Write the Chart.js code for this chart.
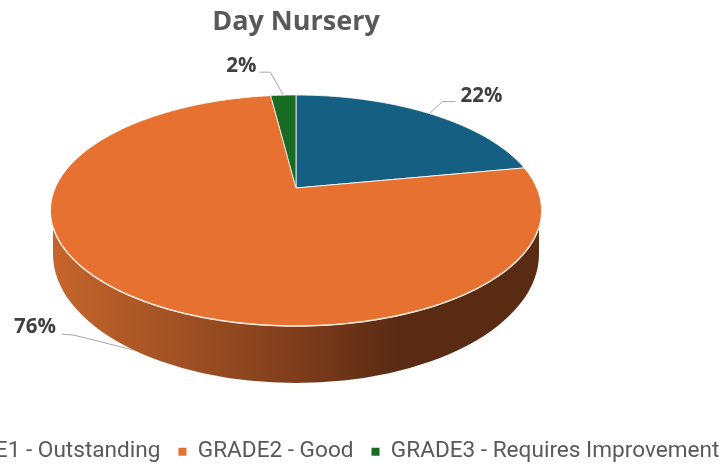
<!DOCTYPE html>
<html><head><meta charset="utf-8">
<style>html,body{margin:0;padding:0;background:#fff;overflow:hidden;width:722px;height:468px}
#wrap{position:absolute;left:-154px;top:0;width:900px;height:468px}</style>
<script src="https://cdn.jsdelivr.net/npm/chart.js@4"></script>
</head><body><div id="wrap"><canvas id="c" width="900" height="468"></canvas></div>
<script>
const categories = ["GRADE1 - Outstanding","GRADE2 - Good","GRADE3 - Requires Improvement"];
const values = [22,76,2];
const colors = ["#156082","#E67130","#196B24"];
const titleText = "Day Nursery";

// perspective look of the pie: tilt, squash, apex height, wall
const K = 0.195, SQUASH = 0.4614, APEX_Y = 188;
const WALL = {rx:243/240.8, yc:254, ry:129};

function project(el, a){
  const r = el.outerRadius, X = Math.cos(a), Y = Math.sin(a), w = 1 - K*Y;
  return {x: el.x + r*X/w, y: APEX_Y + r*SQUASH*Y/w};
}
const labelLayout = [
  {leader:[[13,-12],[26,-12]], tx:31, ty:-20, align:'left', wall:false},
  {leader:[[-60,-15],[-72,-16]], tx:-78, ty:-23, align:'right', wall:true},
  {leader:[[-13,-23],[-24,-23]], tx:-27, ty:-30, align:'right', wall:false}
];
const labelDy = [3,0,1];
const pie3d = {
  id:'pie3d',
  afterLayout(chart){
    const l = chart.legend;
    l.left += 22; l.right += 22; l.top += 9; l.bottom += 9;
  },
  beforeDatasetsDraw(chart){
    const ctx = chart.ctx, els = chart.getDatasetMeta(0).data, e0 = els[0];
    const wrx = e0.outerRadius*WALL.rx, wry = WALL.ry;
    // side wall
    const g = ctx.createLinearGradient(e0.x-240,0,e0.x+100,0);
    g.addColorStop(0,'#C4652C'); g.addColorStop(0.42,'#9B4E22'); g.addColorStop(0.72,'#7D3C1C'); g.addColorStop(1,'#5A2B13');
    ctx.save();
    ctx.fillStyle = g;
    ctx.beginPath();
    ctx.moveTo(e0.x-wrx, 228);
    ctx.lineTo(e0.x-wrx, WALL.yc);
    ctx.ellipse(e0.x, WALL.yc, wrx, wry, 0, Math.PI, 0, true);
    ctx.lineTo(e0.x+wrx, 228);
    ctx.closePath();
    ctx.fill();
    // top surface, one path per arc element
    els.forEach((el,i)=>{
      const n = 160;
      ctx.beginPath();
      ctx.moveTo(el.x, APEX_Y);
      for(let s=0;s<=n;s++){
        const p = project(el, el.startAngle + (el.endAngle-el.startAngle)*s/n);
        ctx.lineTo(p.x,p.y);
      }
      ctx.closePath();
      ctx.fillStyle = colors[i];
      ctx.fill();
      ctx.strokeStyle = 'rgba(255,255,255,0.8)';
      ctx.lineWidth = 1;
      ctx.stroke();
    });
    // bright rim where the top surface meets the wall
    const el = els[1];
    ctx.beginPath();
    let started = false;
    for(let s=0;s<=240;s++){
      const p = project(el, el.startAngle + (el.endAngle-el.startAngle)*s/240);
      if(p.y < 228) { if(started) break; continue; }
      if(!started){ ctx.moveTo(p.x,p.y); started = true; } else ctx.lineTo(p.x,p.y);
    }
    ctx.strokeStyle = 'rgba(255,240,230,0.9)';
    ctx.lineWidth = 1.5;
    ctx.stroke();
    // data labels with leader lines
    const total = values.reduce((a,b)=>a+b,0);
    ctx.font = 'bold 20.5px "Open Sans"';
    ctx.textBaseline = 'middle';
    els.forEach((el,i)=>{
      const L = labelLayout[i], mid = (el.startAngle+el.endAngle)/2;
      let a = project(el, mid);
      if(L.wall){
        a = {x:a.x+6, y:WALL.yc + wry*Math.sqrt(Math.max(0,1-Math.pow((a.x+6-el.x)/wrx,2)))};
      }
      ctx.strokeStyle = '#A6A6A6'; ctx.lineWidth = 1;
      ctx.beginPath(); ctx.moveTo(a.x,a.y);
      L.leader.forEach(o=>ctx.lineTo(a.x+o[0],a.y+o[1]));
      ctx.stroke();
      ctx.fillStyle = '#404040';
      ctx.textAlign = L.align;
      ctx.fillText(Math.round(values[i]/total*100)+'%', a.x+L.tx, a.y+L.ty+labelDy[i]);
    });
    ctx.restore();
    return false;
  }
};
new Chart(document.getElementById('c'),{
  type:'pie',
  data:{labels:categories,datasets:[{data:values,backgroundColor:colors,borderWidth:0}]},
  plugins:[pie3d],
  options:{
    responsive:false,animation:false,events:[],
    radius:240.8,
    layout:{padding:{top:6,bottom:4}},
    plugins:{
      tooltip:{enabled:false},
      title:{display:true,text:titleText,color:'#595959',font:{family:'"Open Sans"',size:27,weight:'bold'},padding:{top:0,bottom:10}},
      legend:{position:'bottom',labels:{boxWidth:8,boxHeight:8,padding:18,color:'#595959',font:{family:'Roboto',size:22.6}}}
    }
  }
});
</script></body></html>
